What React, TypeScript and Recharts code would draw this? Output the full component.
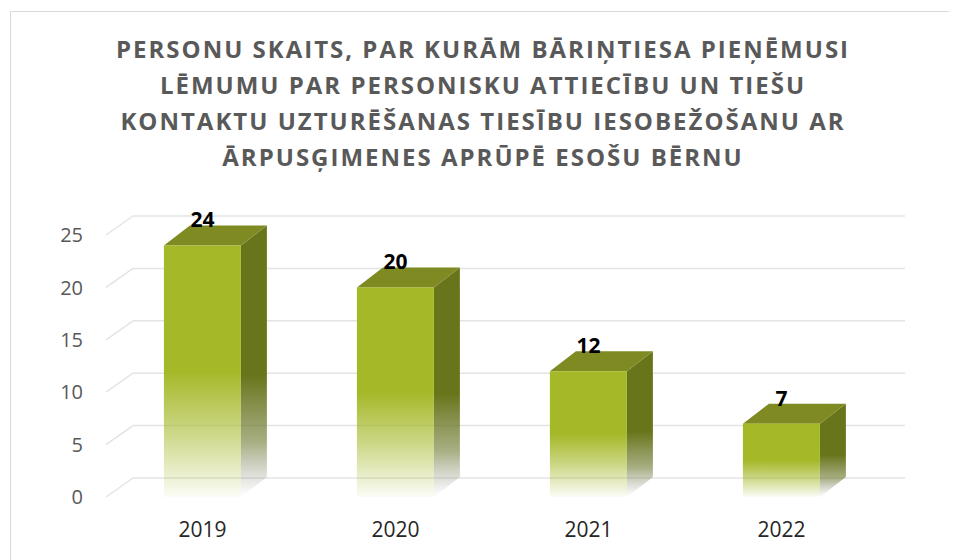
import React from 'react';
import { BarChart, Bar, XAxis, YAxis, CartesianGrid, LabelList } from 'recharts';

const years = ['2019', '2020', '2021', '2022'];
const persons = [24, 20, 12, 7];
const yTicks = [0, 5, 10, 15, 20, 25];
const titleLines = [
  'PERSONU SKAITS, PAR KURĀM BĀRIŅTIESA PIEŅĒMUSI',
  'LĒMUMU PAR PERSONISKU ATTIECĪBU UN TIEŠU',
  'KONTAKTU UZTURĒŠANAS TIESĪBU IESOBEŽOŠANU AR',
  'ĀRPUSĢIMENES APRŪPĒ ESOŠU BĒRNU',
];

const data = years.map((year, i) => ({ year, count: persons[i] }));

const FONT = '"Open Sans", sans-serif';
// depth offset of the 3D look
const DX = 26;
const DY = -20;
const GX = 27;
const GY = -19;

const Bar3D: React.FC<any> = (props: any) => {
  const { x, y, width, height } = props;
  const top = `${x},${y} ${x + width},${y} ${x + width + DX},${y + DY} ${x + DX},${y + DY}`;
  const side = `${x + width},${y} ${x + width + DX},${y + DY} ${x + width + DX},${y + height + DY} ${x + width},${y + height}`;
  return (
    <g>
      <polygon points={side} fill="url(#sideFade)" />
      <polygon points={top} fill="#7f8a22" />
      <rect x={x} y={y} width={width} height={height} fill="url(#frontFade)" />
    </g>
  );
};

const gridLine = (p: any) => {
  const { x1, x2, y1 } = p;
  return (
    <g key={p.key}>
      <line x1={x1} y1={y1} x2={x1 + GX} y2={y1 + GY} stroke="#e4e4e4" strokeWidth={1.5} />
      <line x1={x1 + GX} y1={y1 + GY} x2={x2 + GX} y2={y1 + GY} stroke="#e4e4e4" strokeWidth={1.5} />
    </g>
  );
};

const valueLabel = (p: any) => (
  <text
    x={p.x + p.width / 2}
    y={p.y - 18}
    textAnchor="middle"
    fontFamily={FONT}
    fontWeight={700}
    fontSize={21}
    fill="#000"
  >
    {p.value}
  </text>
);

export default function App() {
  return (
    <div style={{ position: 'relative', width: 949, height: 552, overflow: 'hidden', fontFamily: FONT }}>
      <div
        style={{
          position: 'absolute',
          left: 2,
          top: 3,
          width: 1000,
          height: 600,
          border: '1px solid #d9d9d9',
          boxSizing: 'border-box',
        }}
      />
      <div
        style={{
          position: 'absolute',
          left: 75,
          top: 23,
          width: 800,
          textAlign: 'center',
          fontSize: 24,
          lineHeight: '36px',
          fontWeight: 700,
          letterSpacing: 2,
          color: '#595959',
        }}
      >
        {titleLines.map((l) => (
          <div key={l}>{l}</div>
        ))}
      </div>
      <div style={{ position: 'absolute', left: 0, top: 0 }}>
        <BarChart
          width={949}
          height={552}
          data={data}
          margin={{ top: 227, right: 79, left: 38, bottom: 23 }}
          barCategoryGap="30%"
        >
          <defs>
            <linearGradient id="frontFade" x1="0" y1="0" x2="0" y2="1">
              <stop offset="0" stopColor="#a5b828" stopOpacity={1} />
              <stop offset="0.5" stopColor="#a5b828" stopOpacity={1} />
              <stop offset="0.75" stopColor="#a5b828" stopOpacity={0.55} />
              <stop offset="1" stopColor="#a5b828" stopOpacity={0.04} />
            </linearGradient>
            <linearGradient id="sideFade" x1="0" y1="0" x2="0" y2="1">
              <stop offset="0" stopColor="#69751b" stopOpacity={1} />
              <stop offset="0.55" stopColor="#69751b" stopOpacity={1} />
              <stop offset="0.8" stopColor="#6f7a30" stopOpacity={0.6} />
              <stop offset="1" stopColor="#808080" stopOpacity={0} />
            </linearGradient>
          </defs>
          <CartesianGrid horizontal={gridLine} vertical={false} />
          <XAxis
            dataKey="year"
            axisLine={false}
            tickLine={false}
            tickMargin={19}
            height={40}
            tick={{ fill: '#262626', fontSize: 21, fontFamily: FONT }}
          />
          <YAxis
            domain={[0, 25]}
            ticks={yTicks}
            axisLine={false}
            tickLine={false}
            tickMargin={17}
            width={60}
            tick={{ fill: '#595959', fontSize: 20, fontFamily: FONT }}
          />
          <Bar dataKey="count" shape={<Bar3D />} isAnimationActive={false}>
            <LabelList dataKey="count" content={valueLabel} />
          </Bar>
        </BarChart>
      </div>
    </div>
  );
}
